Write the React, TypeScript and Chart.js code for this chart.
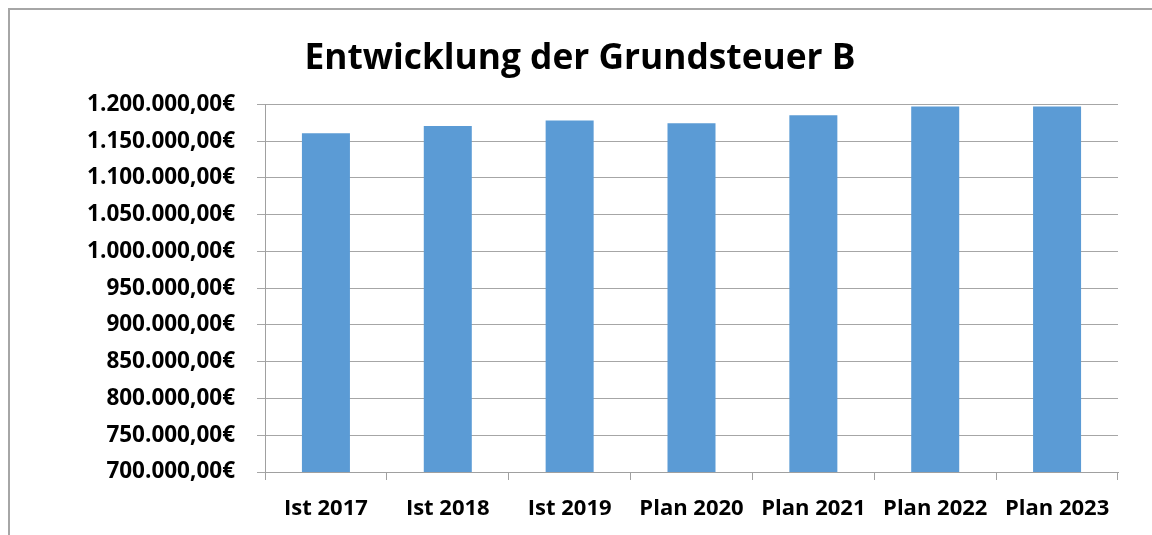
import React, { useEffect, useRef } from "react";
import { Chart, registerables } from "chart.js";

Chart.register(...registerables);

const categories = ["Ist 2017", "Ist 2018", "Ist 2019", "Plan 2020", "Plan 2021", "Plan 2022", "Plan 2023"];
const values = [1160800, 1170700, 1178000, 1174400, 1185300, 1197000, 1197000];
const chartTitle = "Entwicklung der Grundsteuer B";
const yMin = 700000;
const yMax = 1200000;
const yStep = 50000;

function formatEuro(v: number): string {
  const intPart = Math.round(v).toString().replace(/\B(?=(\d{3})+(?!\d))/g, ".");
  return intPart + ",00€";
}

const FONT = "'Open Sans', Lato, sans-serif";

export default function App() {
  const ref = useRef<HTMLCanvasElement>(null);
  useEffect(() => {
    document.body.style.overflow = "hidden";
    const ctx = ref.current!;
    const chart = new Chart(ctx, {
      type: "bar",
      data: {
        labels: categories,
        datasets: [
          {
            data: values,
            backgroundColor: "#5B9BD5",
            borderWidth: 0,
            barPercentage: 0.394,
            categoryPercentage: 1,
          },
        ],
      },
      options: {
        responsive: false,
        animation: false,
        devicePixelRatio: 1,
        layout: { padding: { top: 0, left: 42, right: 34, bottom: 0 } },
        plugins: {
          legend: { display: false },
          tooltip: { enabled: false },
          title: {
            display: true,
            text: chartTitle,
            color: "#000",
            font: { family: FONT, size: 35.3, weight: "bold", lineHeight: 1.2 },
            padding: { top: 38, bottom: 24 },
          },
        },
        scales: {
          x: {
            afterFit: (s: any) => {
              s.height = 63;
            },
            grid: {
              offset: true,
              drawOnChartArea: false,
              drawTicks: true,
              tickLength: 8,
              color: "#A0A0A0",
            },
            border: { display: true, color: "#A0A0A0", width: 1 },
            ticks: {
              color: "#000",
              padding: 16,
              font: { family: FONT, size: 22, weight: "bold" },
              maxRotation: 0,
              autoSkip: false,
            },
          },
          y: {
            min: yMin,
            max: yMax,
            afterFit: (s: any) => {
              s.width = 223;
            },
            grid: {
              color: "#A6A6A6",
              tickLength: 8,
              drawTicks: true,
            },
            border: { display: true, color: "#A0A0A0", width: 1 },
            ticks: {
              stepSize: yStep,
              color: "#000",
              padding: 22,
              font: { family: FONT, size: 22.5, weight: "bold" },
              callback: (v: any) => formatEuro(Number(v)),
            },
          },
        },
      },
    });
    return () => chart.destroy();
  }, []);

  return (
    <div style={{ position: "absolute", left: 0, top: 0, width: 1152, height: 535, overflow: "hidden", background: "#fff" }}>
      <div
        style={{
          position: "absolute",
          left: 8,
          top: 8,
          width: 1200,
          height: 600,
          borderLeft: "2px solid #A6A6A6",
          borderTop: "2px solid #A6A6A6",
        }}
      />
      <canvas ref={ref} width={1152} height={535} style={{ position: "absolute", left: 0, top: 0, display: "block" }} />
    </div>
  );
}
